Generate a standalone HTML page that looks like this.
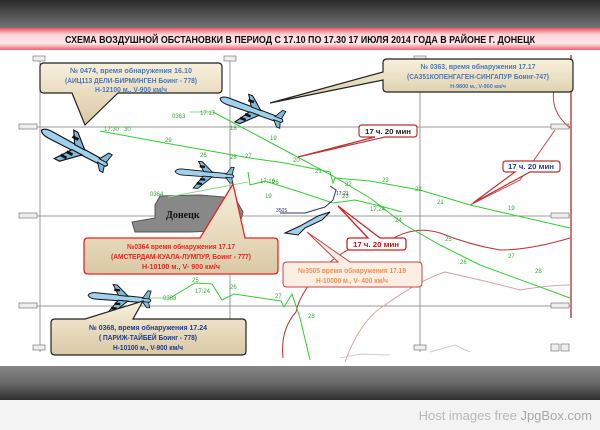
<!DOCTYPE html>
<html><head><meta charset="utf-8"><style>
html,body{margin:0;padding:0;width:600px;height:430px;overflow:hidden;background:#f3f3f3;font-family:"Liberation Sans",sans-serif}
</style></head><body>
<svg width="600" height="430" viewBox="0 0 600 430" xmlns="http://www.w3.org/2000/svg" font-family="Liberation Sans, sans-serif">
<defs>
<linearGradient id="top" x1="0" y1="0" x2="0" y2="1"><stop offset="0" stop-color="#2a2a2a"/><stop offset="1" stop-color="#7a7a7a"/></linearGradient>
<linearGradient id="bot" x1="0" y1="0" x2="0" y2="1"><stop offset="0" stop-color="#858585"/><stop offset="0.5" stop-color="#6a6a6a"/><stop offset="1" stop-color="#2e2e2e"/></linearGradient>
<linearGradient id="title" x1="0" y1="0" x2="0" y2="1"><stop offset="0" stop-color="#f05060"/><stop offset="0.3" stop-color="#fbd6da"/><stop offset="0.7" stop-color="#fde8ea"/><stop offset="1" stop-color="#f06070"/></linearGradient>
<linearGradient id="box" x1="0" y1="0" x2="0" y2="1"><stop offset="0" stop-color="#f8f0dc"/><stop offset="1" stop-color="#d9c9a4"/></linearGradient>
<g id="plane">
<path d="M-40,0 Q-38,-4 -30,-4 L35,-3 Q42,0 35,3 L-30,4 Q-38,4 -40,0Z" fill="#9fd0ec" stroke="#111" stroke-width="1.2"/>
<path d="M-2,-3 L-10,-16 L-5,-16 L10,-3Z M-2,3 L-14,20 L-8,20 L10,3Z" fill="#7fb8da" stroke="#111" stroke-width="1.2"/>
<path d="M28,-2 L34,-12 L38,-12 L36,-2Z M28,2 L34,9 L38,9 L36,2Z" fill="#7fb8da" stroke="#111" stroke-width="1"/>
<rect x="-8" y="-11" width="7" height="3" fill="#111"/>
<rect x="-10" y="12" width="7" height="3" fill="#111"/><rect x="-6" y="6" width="7" height="3" fill="#111"/>
</g>
</defs>
<rect x="0" y="0" width="600" height="30" fill="url(#top)"/>
<rect x="0" y="28" width="600" height="22" fill="url(#title)"/>
<text x="300" y="43" text-anchor="middle" font-size="10.5" font-weight="bold" fill="#111" textLength="470" lengthAdjust="spacingAndGlyphs">СХЕМА ВОЗДУШНОЙ ОБСТАНОВКИ В ПЕРИОД С 17.10  ПО 17.30 17 ИЮЛЯ 2014 ГОДА В РАЙОНЕ Г. ДОНЕЦК</text>
<rect x="0" y="50" width="600" height="316" fill="#fff"/>
<rect x="0" y="366" width="600" height="34" fill="url(#bot)"/>
<rect x="0" y="400" width="600" height="30" fill="#f3f3f3"/>
<text x="592" y="420" text-anchor="end" font-size="13" fill="#b8b8b8">Host images free <tspan fill="#a8a8a8">JpgBox.com</tspan></text>

<g stroke="#999" stroke-width="1">
<line x1="40" y1="58" x2="40" y2="352"/><line x1="230" y1="58" x2="230" y2="352"/><line x1="420" y1="58" x2="420" y2="352"/>
<line x1="20" y1="127" x2="570" y2="127"/><line x1="20" y1="216" x2="570" y2="216"/><line x1="20" y1="306" x2="570" y2="306"/>
</g>
<g fill="#eee" stroke="#666" stroke-width="0.6">
<rect x="33" y="56" width="12" height="5"/><rect x="224" y="56" width="12" height="5"/><rect x="414" y="56" width="12" height="5"/>
<rect x="19" y="124" width="18" height="5"/><rect x="19" y="213" width="18" height="5"/><rect x="19" y="303" width="18" height="5"/>
<rect x="551" y="124" width="18" height="5"/><rect x="551" y="213" width="18" height="5"/><rect x="551" y="303" width="18" height="5"/>
<rect x="33" y="345" width="12" height="5"/><rect x="414" y="345" width="12" height="5"/>
<rect x="551" y="344" width="8" height="7"/><rect x="561" y="344" width="8" height="7"/>
</g>
<line x1="571" y1="55" x2="571" y2="318" stroke="#c87878" stroke-width="2"/>

<path d="M155,205 L160,196 L200,195 L235,198 L243,212 L238,230 L190,232 L170,232 L135,232 L132,222 L155,218Z" fill="#888" stroke="#555"/>
<text x="166" y="218" font-size="10" font-weight="bold" font-family="Liberation Serif, serif" fill="#111">Донецк</text>

<g fill="none" stroke-width="1">
<path d="M283,358 Q280,330 296,312 Q300,290 330,262 Q360,238 390,240 Q415,225 440,233 Q470,245 500,250 Q530,250 570,238" stroke="#b33"/>
<path d="M345,362 Q360,320 385,305 Q420,280 445,272 Q490,282 520,290 Q550,285 570,285" stroke="#d9a0a0"/>
<path d="M555,85 Q548,110 570,128" stroke="#c44"/>
<path d="M470,205 L520,180 L555,130" stroke="#c44"/>
<path d="M340,358 L360,354 L390,355" stroke="#ccc"/><path d="M430,352 L455,345 L470,352" stroke="#ccc"/>
</g>

<g fill="none" stroke="#3c3" stroke-width="1">
<path d="M213,112 L262,138 L333,176 L370,198 L405,225 L440,245 L480,265 L570,298"/>
<path d="M100,131 L165,143 L250,158 L285,163 L330,172 L333,183 L335,178 L370,181 L420,190 L470,205 L570,228"/>
<path d="M248,172 L250,185 L265,181 L300,192 L333,203 L355,200 L380,206 L402,212"/>
<path d="M170,298 L195,283 L212,284 L222,300 L234,294 L281,301 L284,307 L292,294 L300,318 L310,360"/>
</g>
<g fill="none" stroke="#8d8" stroke-width="1"><path d="M168,197 L248,182"/><path d="M190,112 L213,112"/><path d="M150,298 L170,298"/></g>
<path d="M280,213 L305,213 L325,207 L333,200 L336,190 L330,186" fill="none" stroke="#336" stroke-width="1"/>
<g font-size="6" fill="#3a3">
<text x="124" y="131">30</text><text x="165" y="142">29</text><text x="230" y="159">28</text><text x="245" y="158">27</text><text x="272" y="184">26</text><text x="200" y="157">26</text>
<text x="230" y="130">18</text><text x="270" y="140">19</text><text x="293" y="162">20</text><text x="315" y="173">21</text><text x="345" y="186">22</text><text x="382" y="182">23</text><text x="415" y="191">22</text><text x="437" y="204">21</text><text x="508" y="210">19</text>
<text x="265" y="198">19</text><text x="342" y="198">23</text><text x="370" y="211">17:24</text><text x="395" y="222">24</text><text x="445" y="241">25</text><text x="460" y="264">26</text><text x="508" y="258">27</text><text x="535" y="273">28</text>
<text x="192" y="282">25</text><text x="195" y="293">17:24</text><text x="230" y="289">26</text><text x="275" y="298">27</text><text x="308" y="318">28</text><text x="163" y="300">0368</text>
<text x="150" y="196">0364</text><text x="172" y="118">0363</text><text x="200" y="115">17:17</text><text x="104" y="131">17:30</text><text x="260" y="183">17:16</text>
</g>
<text x="276" y="212" font-size="5" fill="#336">3505</text><text x="336" y="195" font-size="5" fill="#336">17:21</text>

<use href="#plane" transform="translate(75,148) rotate(28) scale(0.95)"/>
<use href="#plane" transform="translate(252,110) rotate(20) scale(0.85)"/>
<use href="#plane" transform="translate(205,174) rotate(5) scale(0.75)"/>
<use href="#plane" transform="translate(120,298) rotate(5) scale(0.8)"/>
<path d="M285,233 L300,226 L318,216 L330,212 L322,220 L305,228 L298,235Z" fill="#9fd0ec" stroke="#111"/>

<g stroke="#222" stroke-width="1.2" fill="url(#box)">
<path d="M44,63 H218 Q222,63 222,67 V89 Q222,93 218,93 H118 L85,125 L72,93 H44 Q40,93 40,89 V67 Q40,63 44,63Z"/>
<path d="M387,59 H569 Q573,59 573,63 V88 Q573,92 569,92 H387 Q383,92 383,88 V80 L270,103 L383,72 V63 Q383,59 387,59Z"/>
<path d="M55,319 H85 L143,301 L133,319 H242 Q246,319 246,323 V351 Q246,355 242,355 H55 Q51,355 51,351 V323 Q51,319 55,319Z"/>
</g>
<path d="M88,238 H200 L233,184 L245,238 H274 Q278,238 278,242 V270 Q278,274 274,274 H88 Q84,274 84,270 V242 Q84,238 88,238Z" fill="url(#box)" stroke="#e22" stroke-width="1.3"/>
<path d="M287,262 H338 L307,232 L350,262 H418 Q422,262 422,266 V283 Q422,287 418,287 H287 Q283,287 283,283 V266 Q283,262 287,262Z" fill="#fdeee4" stroke="#c44" stroke-width="1"/>
<path d="M350,238 H368 L338,206 L380,238 H403 Q406,238 406,241 V247 Q406,250 403,250 H350 Q347,250 347,247 V241 Q347,238 350,238Z" fill="#fff" stroke="#c22" stroke-width="1.3"/>
<path d="M362,125 H414 Q417,125 417,128 V134 Q417,137 414,137 H385 L298,157 L375,137 H362 Q359,137 359,134 V128 Q359,125 362,125Z" fill="#fff" stroke="#b33" stroke-width="1.2"/>
<path d="M506,161 H557 Q560,161 560,164 V169 Q560,172 557,172 H530 L473,203 L515,172 H506 Q503,172 503,169 V164 Q503,161 506,161Z" fill="#fff" stroke="#b33" stroke-width="1.2"/>

<g font-size="7.5" font-weight="bold" text-anchor="middle" lengthAdjust="spacingAndGlyphs">
<g fill="#4a78b8"><text x="131" y="73" textLength="122" lengthAdjust="spacingAndGlyphs">№ 0474, время обнаружения 16.10</text><text x="131" y="83" textLength="132" lengthAdjust="spacingAndGlyphs">(АИЦ113 ДЕЛИ-БИРМИНГЕН Боинг - 778)</text><text x="131" y="92" textLength="72" lengthAdjust="spacingAndGlyphs">Н-12100 м., V-900 км/ч</text></g>
<g fill="#4a78b8"><text x="478" y="69" textLength="115" lengthAdjust="spacingAndGlyphs">№ 0363, время обнаружения 17.17</text><text x="478" y="79" textLength="142" lengthAdjust="spacingAndGlyphs">(СА351КОПЕНГАГЕН-СИНГАПУР Боинг-747)</text><text x="478" y="88" font-size="5.5">Н-9800 м., V-900 км/ч</text></g>
<g fill="#e22"><text x="181" y="249" textLength="108" lengthAdjust="spacingAndGlyphs">№0364 время обнаружения 17.17</text><text x="181" y="259" textLength="140" lengthAdjust="spacingAndGlyphs">(АМСТЕРДАМ-КУАЛА-ЛУМПУР, Боинг - 777)</text><text x="181" y="269" textLength="78" lengthAdjust="spacingAndGlyphs">Н-10100 м., V- 900 км/ч</text></g>
<g fill="#f09050"><text x="352" y="273" textLength="108" lengthAdjust="spacingAndGlyphs">№3505 время обнаружения 17.19</text><text x="352" y="283" textLength="72" lengthAdjust="spacingAndGlyphs">Н-10000 м., V- 400 км/ч</text></g>
<g fill="#223a8a"><text x="148" y="330" textLength="118" lengthAdjust="spacingAndGlyphs">№ 0368, время обнаружения 17.24</text><text x="148" y="340" textLength="98" lengthAdjust="spacingAndGlyphs">( ПАРИЖ-ТАЙБЕЙ Боинг - 778)</text><text x="148" y="350" textLength="70" lengthAdjust="spacingAndGlyphs">Н-10100 м., V-900 км/ч</text></g>
<text x="376" y="247" fill="#c11" textLength="46" lengthAdjust="spacingAndGlyphs">17 ч. 20 мин</text>
<text x="388" y="134" fill="#222" textLength="46" lengthAdjust="spacingAndGlyphs">17 ч. 20 мин</text>
<text x="531" y="169" fill="#223a8a" textLength="46" lengthAdjust="spacingAndGlyphs">17 ч. 20 мин</text>
</g>
</svg>
</body></html>
